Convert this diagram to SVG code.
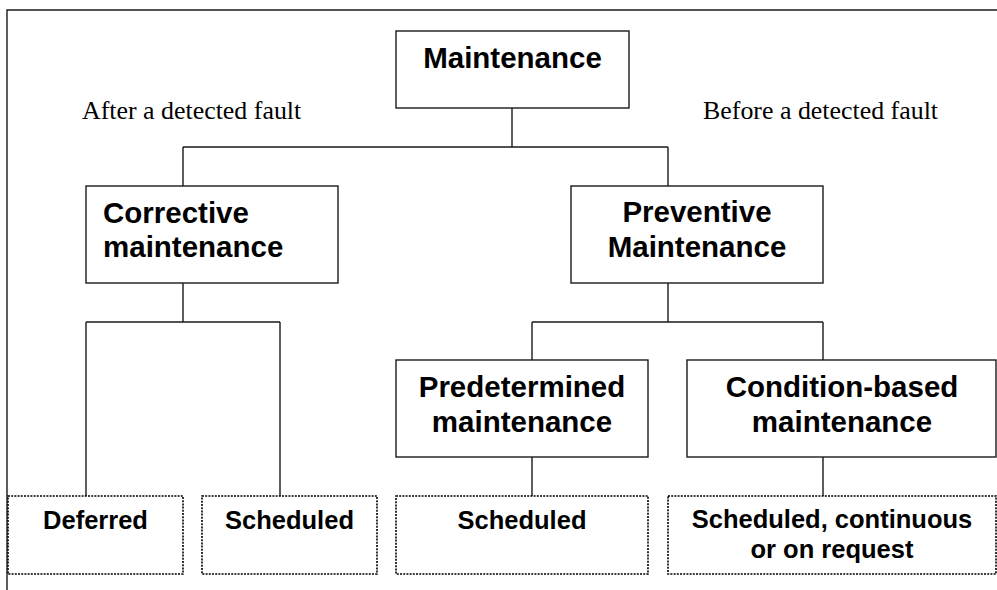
<svg xmlns="http://www.w3.org/2000/svg" width="997" height="590" viewBox="0 0 997 590">
<style>
.box{fill:#fff;stroke:#1a1a1a;stroke-width:1.4}
.dot{fill:#fff;stroke:#000;stroke-width:1.6;stroke-dasharray:2 1.2}
.ln{fill:none;stroke:#1a1a1a;stroke-width:1.4}
.big{font-family:"Liberation Sans",Arial,sans-serif;font-weight:bold;font-size:29.5px;fill:#000}
.sm{font-family:"Liberation Sans",Arial,sans-serif;font-weight:bold;font-size:25.5px;fill:#000;text-anchor:middle}
.ser{font-family:"Liberation Serif","Times New Roman",serif;font-size:25.9px;fill:#000}
.c{text-anchor:middle}
</style>
<rect width="997" height="590" fill="#fff"/>
<path class="ln" d="M7,590 V10 H997"/>
<text class="ser" x="82" y="119">After a detected fault</text>
<text class="ser" x="703" y="119">Before a detected fault</text>
<g id="connectors">
<path class="ln" d="M512,108 V147 M183,147 H668 M183,147 V186 M668,147 V186"/>
<path class="ln" d="M183,283 V322 M86,322 H280 M86,322 V496 M280,322 V496"/>
<path class="ln" d="M668,283 V322 M532,322 H823 M532,322 V360 M823,322 V360"/>
<path class="ln" d="M532,457 V496 M823,457 V496"/>
</g>
<g id="maintenance">
<rect class="box" x="396" y="31" width="233" height="77"/>
<text class="big c" x="512.5" y="68">Maintenance</text>
</g>
<g id="corrective">
<rect class="box" x="86" y="186" width="252" height="97"/>
<text class="big" x="103" y="223">Corrective</text>
<text class="big" x="103" y="257">maintenance</text>
</g>
<g id="preventive">
<rect class="box" x="571" y="186" width="252" height="97"/>
<text class="big c" x="697" y="222">Preventive</text>
<text class="big c" x="697" y="257">Maintenance</text>
</g>
<g id="predetermined">
<rect class="box" x="396" y="360" width="252" height="97"/>
<text class="big c" x="522" y="397">Predetermined</text>
<text class="big c" x="522" y="432">maintenance</text>
</g>
<g id="condition">
<rect class="box" x="687" y="360" width="309" height="97"/>
<text class="big c" x="842" y="397">Condition-based</text>
<text class="big c" x="842" y="432">maintenance</text>
</g>
<g id="deferred">
<rect class="dot" x="8" y="496" width="175" height="78"/>
<text class="sm" x="95.5" y="529">Deferred</text>
</g>
<g id="scheduled1">
<rect class="dot" x="202" y="496" width="175" height="78"/>
<text class="sm" x="289.5" y="529">Scheduled</text>
</g>
<g id="scheduled2">
<rect class="dot" x="396" y="496" width="252" height="78"/>
<text class="sm" x="522" y="529">Scheduled</text>
</g>
<g id="scheduled3">
<rect class="dot" x="668" y="496" width="328" height="78"/>
<text class="sm" x="832" y="528">Scheduled, continuous</text>
<text class="sm" x="832" y="558">or on request</text>
</g>
</svg>
